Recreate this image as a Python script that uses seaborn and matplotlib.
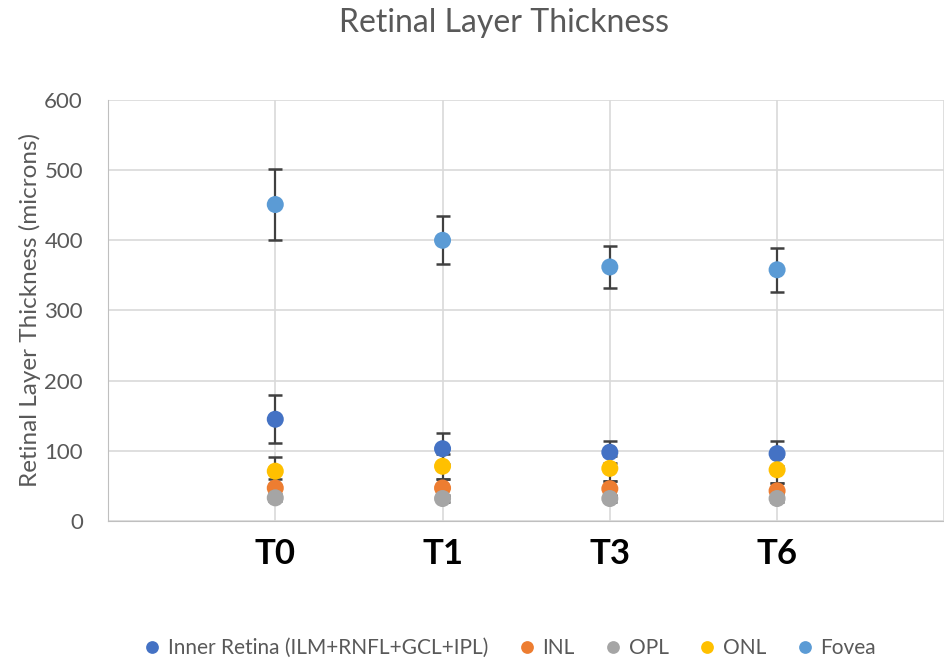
import numpy as np
import pandas as pd
import matplotlib.pyplot as plt
import seaborn as sns

# values
timepoints = ['T0', 'T1', 'T3', 'T6']
layers = ['Inner Retina (ILM+RNFL+GCL+IPL)', 'INL', 'OPL', 'ONL', 'Fovea']
inner_mean = [145, 103, 98, 96]
inner_err = [34, 22, 16, 18]
inl_mean = [47, 47, 46, 43]
inl_err = [13, 13, 11, 11]
opl_mean = [33, 32, 32, 32]
opl_err = [5, 5, 5, 5]
onl_mean = [71, 78, 75, 73]
onl_err = [20, 18, 18, 19]
fovea_mean = [451, 400, 362, 358]
fovea_err = [50, 34, 30, 31]

colors = ['#4472C4', '#ED7D31', '#A5A5A5', '#FFC000', '#5B9BD5']

means = [inner_mean, inl_mean, opl_mean, onl_mean, fovea_mean]
errs = [inner_err, inl_err, opl_err, onl_err, fovea_err]

rows = []
for layer, m, e in zip(layers, means, errs):
    for t, mv, ev in zip(timepoints, m, e):
        rows.append({'Time': t, 'Layer': layer, 'Thickness': mv, 'Err': ev})
df = pd.DataFrame(rows)

sns.set_style('white')
plt.rcParams['font.family'] = ['Lato', 'DejaVu Sans']

fig = plt.figure(figsize=(9.44, 6.62), dpi=100)
ax = fig.add_axes([0.1144, 0.213, 0.886, 0.636])

# error bars first, markers on top
xpos = np.arange(len(timepoints))
for layer, m, e in zip(layers, means, errs):
    ax.errorbar(xpos, m, yerr=e, fmt='none', ecolor='#404040',
                elinewidth=1.6, capsize=5, capthick=1.8, zorder=2)

sns.scatterplot(data=df, x='Time', y='Thickness', hue='Layer',
                hue_order=layers, palette=colors, s=150, edgecolor='none',
                ax=ax, zorder=3, legend=True)

ax.set_xlim(-1, 4)
ax.set_ylim(0, 600)
ax.set_yticks(range(0, 601, 100))
ax.set_xticks(range(-1, 5))
ax.set_xticklabels([''] + timepoints + [''])
ax.grid(True, color='#D9D9D9', linewidth=1.2)
ax.set_axisbelow(True)
for s in ['top', 'right']:
    ax.spines[s].set_visible(False)
ax.spines['left'].set_color('#BFBFBF')
ax.spines['bottom'].set_color('#BFBFBF')
ax.tick_params(axis='x', length=0, pad=12, labelsize=25, labelcolor='black')
for lbl in ax.get_xticklabels():
    lbl.set_fontweight('bold')
ax.tick_params(axis='y', length=0, pad=18, labelsize=16, labelcolor='#595959')

ax.set_xlabel('')
ax.set_ylabel('Retinal Layer Thickness (microns)', fontsize=17.5, color='#595959', labelpad=2)
fig.suptitle('Retinal Layer Thickness', fontsize=23, color='#595959', x=0.534, y=0.988)

handles, labels = ax.get_legend_handles_labels()
ax.legend(handles, labels, loc='lower center', bbox_to_anchor=(0.48, -0.37),
          ncol=5, frameon=False, fontsize=15, labelcolor='#595959',
          handlelength=0.9, handletextpad=0.3, columnspacing=1.4, markerscale=0.75)

fig.savefig('out.png', dpi=100)
